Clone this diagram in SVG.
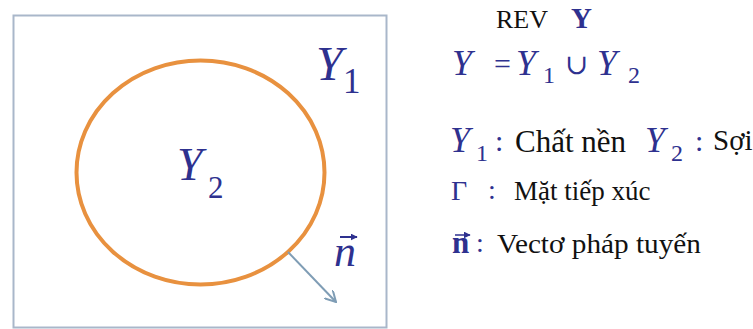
<svg xmlns="http://www.w3.org/2000/svg" width="753" height="329" viewBox="0 0 753 329">
  <style>
    text { font-family: 'Liberation Serif', 'DejaVu Serif', serif; }
    .it { font-style: italic; }
    .blue { fill: #2E318F; }
    .blk { fill: #111111; }
    .sym { font-family: 'DejaVu Serif', 'Liberation Serif', serif; }
  </style>
  <defs>
    <marker id="chev" viewBox="0 0 12 12" refX="11" refY="6" markerWidth="12" markerHeight="12" markerUnits="userSpaceOnUse" orient="auto">
      <path d="M0,0 L11,6 L0,12" fill="none" stroke="#7F9DB5" stroke-width="2"/>
    </marker>
    <marker id="tip" viewBox="0 0 10 10" refX="9" refY="5" markerWidth="7" markerHeight="7" markerUnits="userSpaceOnUse" orient="auto">
      <path d="M0,0 L10,5 L0,10 Z" fill="#2E318F"/>
    </marker>
  </defs>
  <rect width="753" height="329" fill="#ffffff"/>

  <g id="domain">
    <rect x="13.5" y="15.5" width="373" height="312" fill="none" stroke="#A9B7CA" stroke-width="2"/>
    <text class="it blue" x="316" y="80" font-size="48">Y</text>
    <text class="blue" x="343" y="93" font-size="35">1</text>
  </g>

  <g id="fiber">
    <ellipse cx="200.5" cy="172.5" rx="124" ry="112" fill="none" stroke="#E8913F" stroke-width="4"/>
    <text class="it blue" x="177" y="180" font-size="46">Y</text>
    <text class="blue" x="208" y="198" font-size="31">2</text>
  </g>

  <g id="connectors">
    <line x1="288" y1="252" x2="336" y2="302" stroke="#7F9DB5" stroke-width="2" marker-end="url(#chev)"/>
  </g>

  <g id="normal-label">
    <text class="it blue" x="334" y="266" font-size="44">n</text>
    <line x1="340" y1="237" x2="357" y2="237" stroke="#2E318F" stroke-width="2" marker-end="url(#tip)"/>
  </g>

  <g id="legend">
    <text class="blk" x="496" y="28" font-size="26">REV</text>
    <text class="blue" x="571" y="28" font-size="29" font-weight="bold">Y</text>

    <text class="it blue" x="452" y="75" font-size="36">Y</text>
    <text class="blue" x="494" y="74" font-size="30">=</text>
    <text class="it blue" x="516" y="75" font-size="36">Y</text>
    <text class="blue" x="543" y="83" font-size="24">1</text>
    <text class="blue sym" x="565" y="74" font-size="28">∪</text>
    <text class="it blue" x="597" y="75" font-size="36">Y</text>
    <text class="blue" x="628" y="83" font-size="24">2</text>

    <text class="it blue" x="450" y="152" font-size="36">Y</text>
    <text class="blue" x="476" y="161" font-size="24">1</text>
    <text class="blue" x="495" y="151" font-size="30">:</text>
    <text class="blk" x="515" y="152" font-size="31">Chất nền</text>
    <text class="it blue" x="645" y="152" font-size="36">Y</text>
    <text class="blue" x="671" y="161" font-size="24">2</text>
    <text class="blue" x="695" y="151" font-size="30">:</text>
    <text class="blk" x="713" y="150" font-size="29">Sợi</text>

    <text class="blue" x="451" y="200" font-size="28">Γ</text>
    <text class="blue" x="488" y="199" font-size="28">:</text>
    <text class="blk" x="514" y="200" font-size="27">Mặt tiếp xúc</text>

    <text class="blue" x="452" y="253" font-size="31" font-weight="bold">n</text>
    <line x1="455" y1="235" x2="470" y2="235" stroke="#2E318F" stroke-width="1.5" marker-end="url(#tip)"/>
    <text class="blue" x="476" y="252" font-size="28">:</text>
    <text class="blk" x="497" y="253" font-size="28" textLength="204" lengthAdjust="spacingAndGlyphs">Vectơ pháp tuyến</text>
  </g>
</svg>
